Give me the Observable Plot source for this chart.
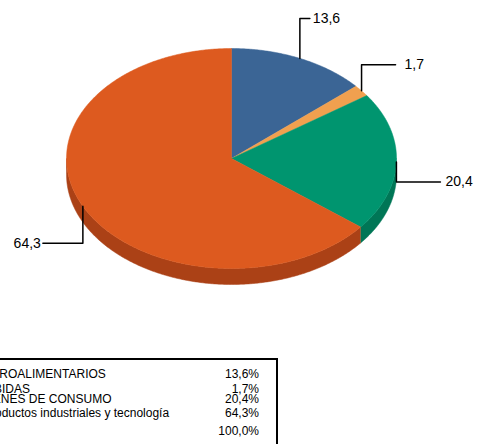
<!DOCTYPE html>
<html><head><meta charset="utf-8">
<script src="https://cdn.jsdelivr.net/npm/d3@7"></script>
<script src="https://cdn.jsdelivr.net/npm/@observablehq/plot@0.6"></script>
<style>
body{margin:0;background:#fff;}
#wrap{position:relative;width:480px;height:444px;overflow:hidden;font-family:"Liberation Sans",Arial,sans-serif;background:#fff;}
svg{display:block}
</style></head><body><div id="wrap"></div>
<script>
// ---- data ----
const categories = ["AGROALIMENTARIOS", "BEBIDAS", "BIENES DE CONSUMO", "Productos industriales y tecnología"];
const values = [13.6, 1.7, 20.4, 64.3];
const sliceLabels = ["13,6", "1,7", "20,4", "64,3"];
const percentLabels = ["13,6%", "1,7%", "20,4%", "64,3%"];
const totalLabel = "100,0%";

// ---- styles / layout ----
const topColors = ["#3b6595", "#f0a04f", "#00956f", "#dd5a1f"];
const sideColors = ["#2c4c70", "#b8783b", "#007656", "#ab4116"];
const RX = 165, RY = 110, CX = 231, CY = 158, DEPTH = 16;
const leaderVert = [-40, -26, 20, 37];   // px, negative = up
const leaderHorz = [10, 34, 44, -40];    // px, negative = left
const labelGap = [3, 9, 5, 2];           // px
const rowX = [-18, -22, -18.5, -17];     // px, legend row text start
const rowBase = [378, 393, 403, 417];    // px, legend row baselines
const totalBase = 435;

const total = d3.sum(values);
let acc = 0;
const slices = values.map((v, i) => {
  const a0 = acc / total * 2 * Math.PI; acc += v;
  const a1 = acc / total * 2 * Math.PI;
  return {i, a0, a1, m: (a0 + a1) / 2};
});
const step = Math.PI / 360;
const d = DEPTH / RY;

const marks = [];
// side faces (visible lower half)
slices.forEach(s => {
  const lo = Math.max(s.a0, Math.PI / 2), hi = Math.min(s.a1, 3 * Math.PI / 2);
  if (hi <= lo) return;
  const n = Math.max(2, Math.ceil((hi - lo) / step));
  const pts = [];
  for (let j = 0; j <= n; j++) { const a = lo + (hi - lo) * j / n; pts.push({x: Math.sin(a), y: Math.cos(a)}); }
  for (let j = n; j >= 0; j--) { const a = lo + (hi - lo) * j / n; pts.push({x: Math.sin(a), y: Math.cos(a) - d}); }
  marks.push(Plot.line(pts, {x: "x", y: "y", fill: sideColors[s.i], stroke: sideColors[s.i], strokeWidth: 0.5}));
});
// top faces
slices.forEach(s => {
  const n = Math.max(2, Math.ceil((s.a1 - s.a0) / step));
  const pts = [{x: 0, y: 0}];
  for (let j = 0; j <= n; j++) { const a = s.a0 + (s.a1 - s.a0) * j / n; pts.push({x: Math.sin(a), y: Math.cos(a)}); }
  pts.push({x: 0, y: 0});
  marks.push(Plot.line(pts, {x: "x", y: "y", fill: topColors[s.i], stroke: topColors[s.i], strokeWidth: 0.5}));
});
// leaders + labels
const leaderPts = [], labelPts = [];
slices.forEach(s => {
  const x0 = Math.sin(s.m), y0 = Math.cos(s.m);
  const y1 = y0 - leaderVert[s.i] / RY;
  const x2 = x0 + leaderHorz[s.i] / RX;
  leaderPts.push({k: s.i, x: x0, y: y0}, {k: s.i, x: x0, y: y1}, {k: s.i, x: x2, y: y1});
  const dir = Math.sign(leaderHorz[s.i]);
  labelPts.push({k: s.i, x: x2 + dir * labelGap[s.i] / RX, y: y1, t: sliceLabels[s.i], dir});
});
marks.push(Plot.line(leaderPts, {x: "x", y: "y", z: "k", stroke: "#000", strokeWidth: 1.5}));
marks.push(Plot.text(labelPts.filter(p => p.dir > 0), {x: "x", y: "y", text: "t", textAnchor: "start", fontSize: 14, fill: "#000"}));
marks.push(Plot.text(labelPts.filter(p => p.dir < 0), {x: "x", y: "y", text: "t", textAnchor: "end", fontSize: 14, fill: "#000"}));

const chart = Plot.plot({
  width: 480, height: 300, margin: 0,
  x: {domain: [-1, 1], range: [CX - RX, CX + RX], axis: null},
  y: {domain: [-1, 1], range: [CY + RY, CY - RY], axis: null},
  style: {fontFamily: "'Liberation Sans', Arial, sans-serif", fontSize: "14px", background: "#fff", overflow: "visible"},
  marks
});
document.getElementById("wrap").appendChild(chart);

// ---- legend table below ----
const OFF = 300;
const tsvg = d3.select("#wrap").append("svg").attr("width", 480).attr("height", 144)
  .style("font-family", "'Liberation Sans', Arial, sans-serif").style("font-size", "12px");
tsvg.append("rect").attr("x", -30).attr("y", 359 - OFF).attr("width", 277 + 30).attr("height", 200)
  .attr("fill", "none").attr("stroke", "#000").attr("stroke-width", 2);
categories.forEach((c, i) => {
  tsvg.append("text").attr("x", rowX[i]).attr("y", rowBase[i] - OFF).text(c);
  tsvg.append("text").attr("x", 259).attr("y", rowBase[i] - OFF).attr("text-anchor", "end").text(percentLabels[i]);
});
tsvg.append("text").attr("x", 259).attr("y", totalBase - OFF).attr("text-anchor", "end").text(totalLabel);
</script></body></html>
